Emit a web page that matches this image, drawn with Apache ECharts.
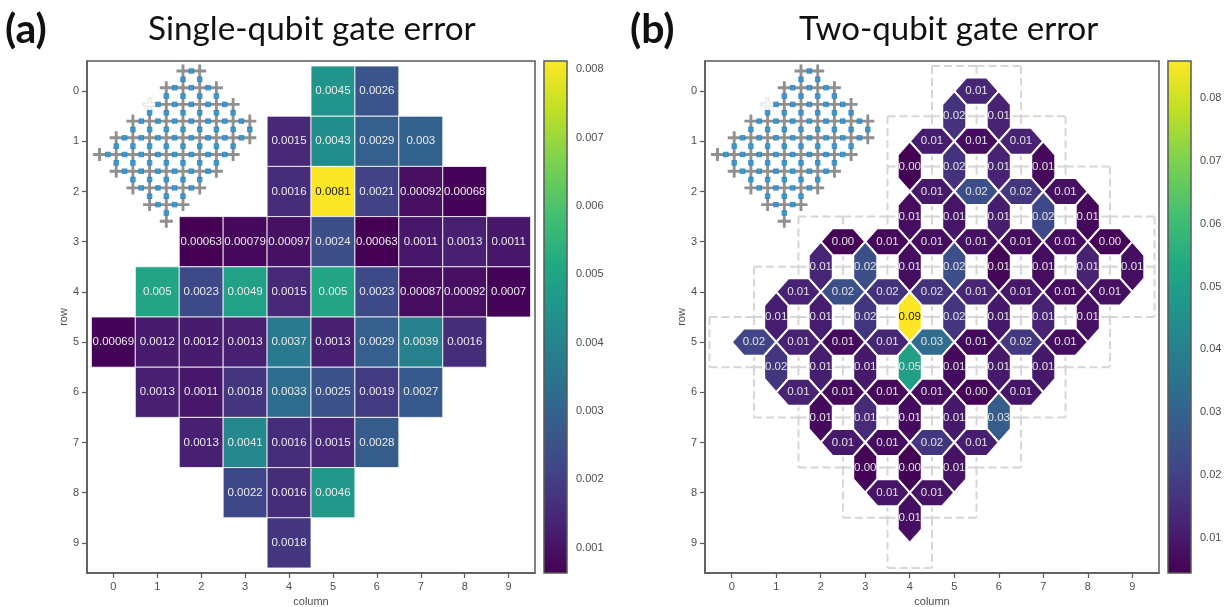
<!DOCTYPE html>
<html><head><meta charset="utf-8">
<style>html,body{margin:0;padding:0;background:#fff}#c{width:1229px;height:607px}</style>
<script src="https://cdn.jsdelivr.net/npm/echarts@6/dist/echarts.min.js"></script>
</head><body><div id="c"></div>
<script>
// ---- data ----
const axisTicks = [0,1,2,3,4,5,6,7,8,9];
const rowStartColumn = [5,4,4,2,1,0,1,2,3,4];
const singleQubitError = [
  [0.0045,0.0026],
  [0.0015,0.0043,0.0029,0.003],
  [0.0016,0.0081,0.0021,0.00092,0.00068],
  [0.00063,0.00079,0.00097,0.0024,0.00063,0.0011,0.0013,0.0011],
  [0.005,0.0023,0.0049,0.0015,0.005,0.0023,0.00087,0.00092,0.0007],
  [0.00069,0.0012,0.0012,0.0013,0.0037,0.0013,0.0029,0.0039,0.0016],
  [0.0013,0.0011,0.0018,0.0033,0.0025,0.0019,0.0027],
  [0.0013,0.0041,0.0016,0.0015,0.0028],
  [0.0022,0.0016,0.0046],
  [0.0018]
];
// [column, row, error]; a half-integer column is a horizontal coupler, a half-integer row a vertical one
const twoQubitError = [
  [5.5,0,.013],
  [5,.5,.016],[6,.5,.012],
  [4.5,1,.011],[5.5,1,.007],[6.5,1,.012],
  [4,1.5,.0047],[5,1.5,.016],[6,1.5,.012],[7,1.5,.006],
  [4.5,2,.010],[5.5,2,.024],[6.5,2,.017],[7.5,2,.008],
  [4,2.5,.007],[5,2.5,.009],[6,2.5,.011],[7,2.5,.022],[8,2.5,.006],
  [2.5,3,.0048],[3.5,3,.006],[4.5,3,.007],[5.5,3,.008],[6.5,3,.007],[7.5,3,.007],[8.5,3,.0048],
  [2,3.5,.013],[3,3.5,.024],[4,3.5,.007],[5,3.5,.024],[6,3.5,.0055],[7,3.5,.007],[8,3.5,.012],[9,3.5,.0075],
  [1.5,4,.012],[2.5,4,.024],[3.5,4,.016],[4.5,4,.016],[5.5,4,.013],[6.5,4,.0095],[7.5,4,.007],[8.5,4,.008],
  [1,4.5,.011],[2,4.5,.011],[3,4.5,.017],[4,4.5,.0859],[5,4.5,.017],[6,4.5,.010],[7,4.5,.012],[8,4.5,.008],
  [.5,5,.021],[1.5,5,.012],[2.5,5,.0065],[3.5,5,.013],[4.5,5,.033],[5.5,5,.0065],[6.5,5,.018],[7.5,5,.007],
  [1,5.5,.017],[2,5.5,.011],[3,5.5,.010],[4,5.5,.05],[5,5.5,.0065],[6,5.5,.010],[7,5.5,.010],
  [1.5,6,.012],[2.5,6,.0065],[3.5,6,.006],[4.5,6,.007],[5.5,6,.0048],[6.5,6,.009],
  [2,6.5,.0065],[3,6.5,.014],[4,6.5,.0065],[5,6.5,.010],[6,6.5,.028],
  [2.5,7,.010],[3.5,7,.007],[4.5,7,.017],[5.5,7,.011],
  [3,7.5,.0048],[4,7.5,.0046],[5,7.5,.0085],
  [3.5,8,.009],[4.5,8,.0085],
  [4,8.5,.0075]
];
const deadQubit = [[3,2]];
const deadCouplers = [[3.5,2],[3,2.5]];
const singleBarRange = [0.00063,0.00812];
const twoBarRange = [0.0044,0.0859];
const singleBarTicks = [0.001,0.002,0.003,0.004,0.005,0.006,0.007,0.008];
const twoBarTicks = [0.01,0.02,0.03,0.04,0.05,0.06,0.07,0.08];
const viridis = ['#440154','#482475','#414487','#355f8d','#2a788e','#21918c','#22a884','#44bf70','#7ad151','#bddf26','#fde725'];

// ---- derived tables ----
const singleCells = [];
const qubits = [];
singleQubitError.forEach((vals,r)=>vals.forEach((v,i)=>{
  singleCells.push([rowStartColumn[r]+i,r,v]);
  qubits.push([rowStartColumn[r]+i,r]);
}));
const segKeys = new Set(), cellEdges = [];
qubits.forEach(([c,r])=>{
  [[c-.5,r-.5,c+.5,r-.5],[c-.5,r+.5,c+.5,r+.5],[c-.5,r-.5,c-.5,r+.5],[c+.5,r-.5,c+.5,r+.5]].forEach(s=>{
    const k=s.join(); if(!segKeys.has(k)){segKeys.add(k);cellEdges.push(s);}
  });
});
const insetCouplers = twoQubitError.map(e=>[e[0],e[1]]).concat(deadCouplers);

// ---- styles ----
const SPINE='#595959', TICK='#4d4d4d', FONT='"Liberation Sans",Arial,sans-serif';
const PLUS='path://M3.9,0H6.1V3.9H10V6.1H6.1V10H3.9V6.1H0V3.9H3.9Z';
const HW=0.27;
function mainX(i){return {gridIndex:i,type:'value',min:-0.6,max:9.6,position:'bottom',name:'column',nameLocation:'middle',nameGap:23,
  nameTextStyle:{color:TICK,fontSize:11,fontFamily:FONT},splitLine:{show:false},
  axisLine:{show:true,onZero:false,lineStyle:{color:SPINE,width:1.5}},
  axisTick:{show:true,length:5,customValues:axisTicks,lineStyle:{color:SPINE,width:1.2}},
  axisLabel:{show:true,customValues:axisTicks,color:TICK,fontSize:11,fontFamily:FONT,margin:8,formatter:v=>String(v)}};}
function mainY(i){return {gridIndex:i,type:'value',inverse:true,min:-0.6,max:9.6,position:'left',name:'row',nameLocation:'middle',nameGap:18,
  nameTextStyle:{color:TICK,fontSize:11,fontFamily:FONT},splitLine:{show:false},
  axisLine:{show:true,onZero:false,lineStyle:{color:SPINE,width:1.5}},
  axisTick:{show:true,length:5,customValues:axisTicks,lineStyle:{color:SPINE,width:1.2}},
  axisLabel:{show:true,customValues:axisTicks,color:TICK,fontSize:11,fontFamily:FONT,margin:8,formatter:v=>String(v)}};}
function hiddenX(i,min,max){return {gridIndex:i,type:'value',min,max,show:false};}
function barY(i,range,ticks,digits){return {gridIndex:i,type:'value',min:range[0],max:range[1],position:'right',splitLine:{show:false},
  axisLine:{show:false},
  axisTick:{show:true,length:5,customValues:ticks,lineStyle:{color:SPINE,width:1.2}},
  axisLabel:{show:true,customValues:ticks,color:TICK,fontSize:11,fontFamily:FONT,margin:9,formatter:v=>v.toFixed(digits)}};}

function cellItem(params,api){
  const c=api.value(0),r=api.value(1),v=api.value(2);
  const a=api.coord([c-.5,r-.5]),b=api.coord([c+.5,r+.5]),m=api.coord([c,r]);
  return {type:'group',children:[
    {type:'rect',shape:{x:a[0],y:a[1],width:b[0]-a[0],height:b[1]-a[1]},style:{fill:api.visual('color'),stroke:'#fff',lineWidth:.8}},
    {type:'text',style:{x:m[0],y:m[1],text:String(parseFloat(v.toPrecision(2))),align:'center',verticalAlign:'middle',
      fill:v>0.0065?'#1a1a1a':'#ececec',font:'11.5px '+FONT}}
  ]};
}
function hexItem(params,api){
  const x=api.value(0),y=api.value(1),v=api.value(2);
  const h=x%1!==0;
  const pts=h?[[x-.5,y],[x-.5+HW,y-HW],[x+.5-HW,y-HW],[x+.5,y],[x+.5-HW,y+HW],[x-.5+HW,y+HW]]
             :[[x,y-.5],[x+HW,y-.5+HW],[x+HW,y+.5-HW],[x,y+.5],[x-HW,y+.5-HW],[x-HW,y-.5+HW]];
  const m=api.coord([x,y]);
  return {type:'group',children:[
    {type:'polygon',shape:{points:pts.map(p=>api.coord(p))},style:{fill:api.visual('color'),stroke:'#fff',lineWidth:2}},
    {type:'text',style:{x:m[0],y:m[1],text:v.toFixed(2),align:'center',verticalAlign:'middle',
      fill:v>0.07?'#1a1a1a':'#e4e4e4',font:'11.5px '+FONT}}
  ]};
}
function edgeItem(params,api){
  const a=api.coord([api.value(0),api.value(1)]),b=api.coord([api.value(2),api.value(3)]);
  return {type:'line',shape:{x1:a[0],y1:a[1],x2:b[0],y2:b[1]},style:{stroke:'#d6d6d6',lineWidth:2,lineDash:[8,4]}};
}
function barItem(params,api){
  const a=api.coord([0,api.value(1)]),b=api.coord([1,api.value(0)]);
  const n=viridis.length-1;
  return {type:'rect',shape:{x:a[0],y:a[1],width:b[0]-a[0],height:b[1]-a[1]},
    style:{fill:{type:'linear',x:0,y:0,x2:0,y2:1,colorStops:viridis.map((c,i)=>({offset:1-i/n,color:c})).reverse()},stroke:SPINE,lineWidth:1.5}};
}
function insetSeries(xi,yi){
  return [
    {type:'scatter',xAxisIndex:xi,yAxisIndex:yi,data:qubits,symbol:PLUS,symbolSize:13,itemStyle:{color:'#747474'},silent:true,z:5},
    {type:'scatter',xAxisIndex:xi,yAxisIndex:yi,data:deadQubit,symbol:PLUS,symbolSize:13,itemStyle:{color:'#ffffff',borderColor:'#c8c8c8',borderWidth:.8},silent:true,z:5},
    {type:'scatter',xAxisIndex:xi,yAxisIndex:yi,data:insetCouplers,symbol:'rect',symbolSize:5.5,itemStyle:{color:'#127cbd'},silent:true,z:6}
  ];
}

const option={
  animation:false,backgroundColor:'#fff',
  title:[
    {text:'(a)',left:5,top:9,padding:0,textStyle:{fontFamily:'Lato',fontWeight:'bold',fontSize:41,color:'#111'}},
    {text:'Single-qubit gate error',left:148,top:13,padding:0,textStyle:{fontFamily:'Lato',fontWeight:'normal',fontSize:33.3,color:'#111'}},
    {text:'(b)',left:630,top:9,padding:0,textStyle:{fontFamily:'Lato',fontWeight:'bold',fontSize:41,color:'#111'}},
    {text:'Two-qubit gate error',left:799,top:13,padding:0,textStyle:{fontFamily:'Lato',fontWeight:'normal',fontSize:33,color:'#111'}}
  ],
  grid:[
    {left:87,top:61,width:448,height:512,show:true,borderColor:SPINE,borderWidth:1.5,backgroundColor:'#fff'},
    {left:705,top:61,width:454,height:512,show:true,borderColor:SPINE,borderWidth:1.5,backgroundColor:'#fff'},
    {left:544,top:61,width:23,height:512},
    {left:1168,top:61,width:23,height:512},
    {left:99.5,top:71,width:150.3,height:150.3},
    {left:717.5,top:71,width:150.3,height:150.3}
  ].map(g=>Object.assign({containLabel:false,outerBoundsMode:'none'},g)),
  xAxis:[mainX(0),mainX(1),hiddenX(2,0,1),hiddenX(3,0,1),hiddenX(4,0,9),hiddenX(5,0,9)],
  yAxis:[mainY(0),mainY(1),barY(2,singleBarRange,singleBarTicks,3),barY(3,twoBarRange,twoBarTicks,2),
    {gridIndex:4,type:'value',inverse:true,min:0,max:9,show:false},
    {gridIndex:5,type:'value',inverse:true,min:0,max:9,show:false}],
  visualMap:[
    {show:false,type:'continuous',min:singleBarRange[0],max:singleBarRange[1],dimension:2,seriesIndex:0,inRange:{color:viridis}},
    {show:false,type:'continuous',min:twoBarRange[0],max:twoBarRange[1],dimension:2,seriesIndex:2,inRange:{color:viridis}}
  ],
  series:[
    {type:'custom',xAxisIndex:0,yAxisIndex:0,data:singleCells,encode:{x:0,y:1},renderItem:cellItem,silent:true,z:3},
    {type:'custom',xAxisIndex:1,yAxisIndex:1,data:cellEdges,encode:{x:[0,2],y:[1,3]},renderItem:edgeItem,silent:true,z:2},
    {type:'custom',xAxisIndex:1,yAxisIndex:1,data:twoQubitError,encode:{x:0,y:1},renderItem:hexItem,silent:true,z:3},
    {type:'custom',xAxisIndex:2,yAxisIndex:2,data:[singleBarRange],encode:{y:[0,1]},renderItem:barItem,silent:true,z:3},
    {type:'custom',xAxisIndex:3,yAxisIndex:3,data:[twoBarRange],encode:{y:[0,1]},renderItem:barItem,silent:true,z:3},
    ...insetSeries(4,4),
    ...insetSeries(5,5)
  ]
};
echarts.init(document.getElementById('c'),null,{renderer:'canvas'}).setOption(option);
</script>
</body></html>
